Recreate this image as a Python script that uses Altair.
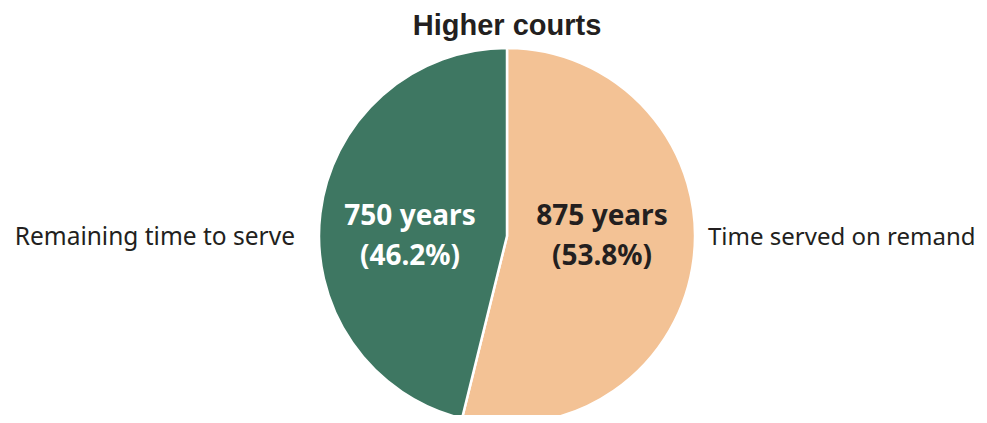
import altair as alt
import pandas as pd

title_text = ["Higher courts"]
categories = ["Time served on remand", "Remaining time to serve"]
years = [875, 750]
shares = ["53.8%", "46.2%"]
colors = ["#f3c295", "#3e7762"]
order = [0, 1]

df = pd.DataFrame({"category": categories, "years": years, "share": shares, "ord": order})

W, H = 971, 407
CX, CY = 499, 228

base = alt.Chart(df)

pie = base.mark_arc(outerRadius=188, stroke="white", strokeWidth=2.5).encode(
    theta=alt.Theta("years:Q", stack=True),
    color=alt.Color("category:N", scale=alt.Scale(domain=categories, range=colors), legend=None),
    order=alt.Order("ord:Q"),
    x=alt.value(CX),
    y=alt.value(CY),
)

font_b = "Noto Sans"

def inner(cat, xpos, col):
    d = df[df.category == cat]
    c = alt.Chart(d)
    t1 = c.mark_text(font=font_b, fontWeight="bold", fontSize=28, color=col, baseline="middle", align="center").encode(
        text=alt.Text("label:N"), x=alt.value(xpos), y=alt.value(CY - 19)
    ).transform_calculate(label="datum.years + ' years'")
    t2 = c.mark_text(font=font_b, fontWeight="bold", fontSize=28, color=col, baseline="middle", align="center").encode(
        text=alt.Text("label:N"), x=alt.value(xpos), y=alt.value(CY + 21)
    ).transform_calculate(label="'(' + datum.share + ')'")
    return t1 + t2

left_in = inner("Remaining time to serve", 402, "white")
right_in = inner("Time served on remand", 594, "#231f20")

outer_left = alt.Chart(df[df.category == "Remaining time to serve"]).mark_text(
    font=font_b, fontSize=24.5, color="#231f20", align="right", baseline="middle"
).encode(text="category:N", x=alt.value(287), y=alt.value(CY + 2))

outer_right = alt.Chart(df[df.category == "Time served on remand"]).mark_text(
    font=font_b, fontSize=24, color="#231f20", align="left", baseline="middle"
).encode(text="category:N", x=alt.value(700), y=alt.value(CY + 2))

title = alt.Chart(pd.DataFrame({"t": title_text})).mark_text(
    font="Liberation Sans", fontSize=29, fontWeight="bold", color="#231f20", align="center", baseline="alphabetic"
).encode(text="t:N", x=alt.value(CX), y=alt.value(27))

chart = alt.layer(pie, left_in, right_in, outer_left, outer_right, title).properties(
    width=W, height=H,
    autosize=alt.AutoSizeParams(type="none"),
    padding=0,
).configure_view(stroke=None)

chart.save("out.html", embed_options={"renderer": "svg", "actions": False})
